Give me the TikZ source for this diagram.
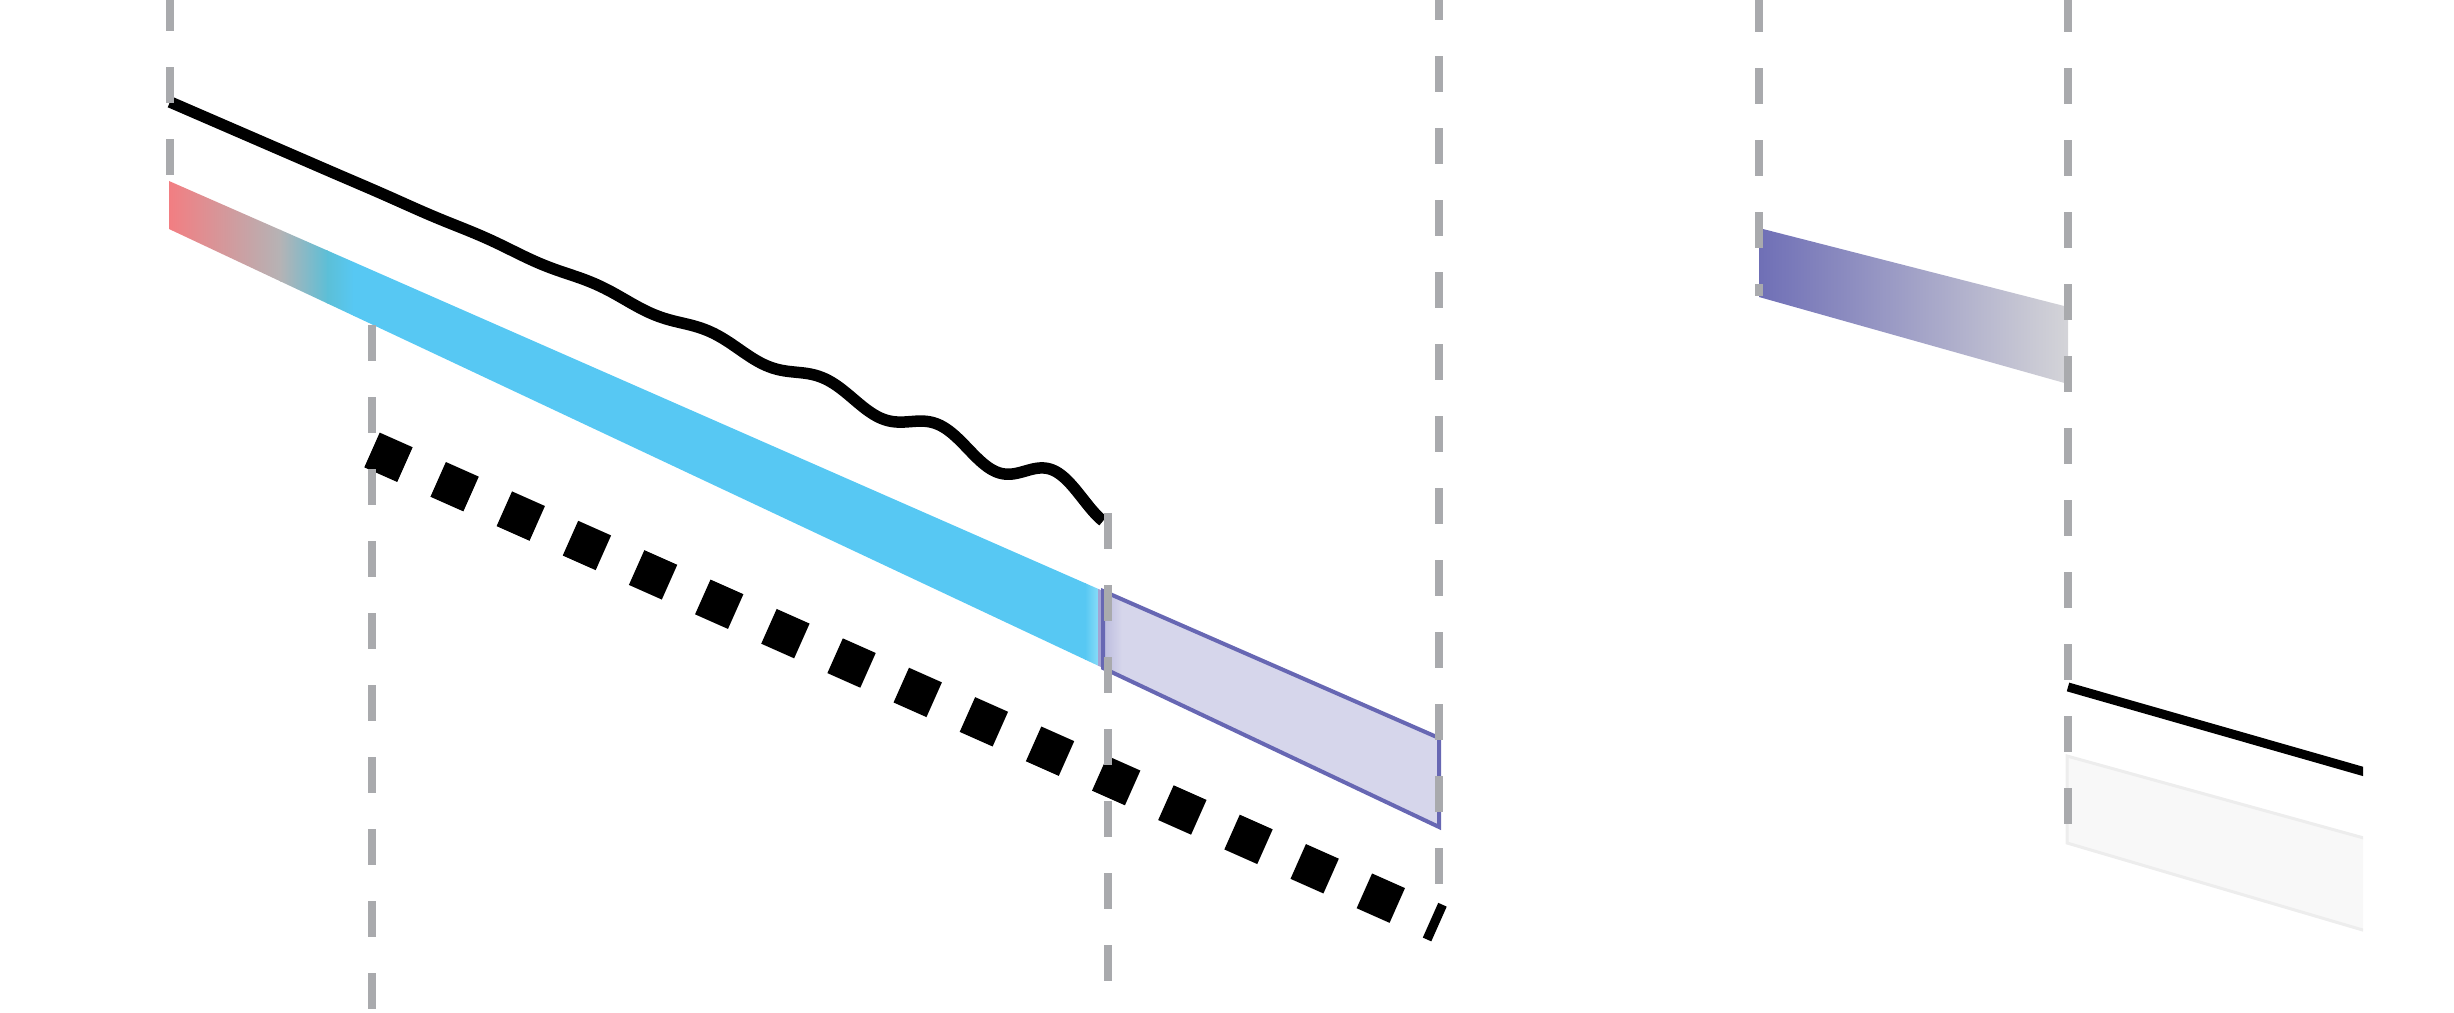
\documentclass[tikz,border=0pt]{standalone}
\usepackage{tikz}
\definecolor{guidegray}{HTML}{A9AAAD}
\definecolor{bandred}{HTML}{F27E82}
\definecolor{bandgray}{HTML}{B5B3B5}
\definecolor{bandteal}{HTML}{5CBFD7}
\definecolor{bandsky}{HTML}{57C8F3}
\definecolor{bandpale}{HTML}{8ADCF8}
\definecolor{lavstrip}{HTML}{A3A3D3}
\definecolor{lavfill}{HTML}{D6D6EB}
\definecolor{lavdark}{HTML}{BBBBDE}
\definecolor{lavline}{HTML}{6767B3}
\definecolor{purpleleft}{HTML}{6F6FB6}
\definecolor{purpleright}{HTML}{D4D4D8}
\definecolor{ghostfill}{HTML}{F8F8F8}
\definecolor{ghostline}{HTML}{EDEDED}
\tikzset{
  % Stili per linee e bande
  guide/.style={draw=guidegray, line width=0.08cm, dash pattern=on 0.36cm off 0.36cm},
  wave/.style={draw=black, line width=0.115cm},
  squaredots/.style={draw=black, line width=0.38cm, dash pattern=on 0.36cm off 0.3635cm},
  thinline/.style={draw=black, line width=0.09cm},
  lavborder/.style={draw=lavline, line width=0.04cm},
  ghostband/.style={fill=ghostfill, draw=ghostline, line width=0.03cm}
}

\begin{document}
\begin{tikzpicture}[x=0.01cm, y=-0.01cm]
\useasboundingbox (0,0) rectangle (2454,1013);

% Punti della banda di sinistra
\coordinate (bandTL) at (169,181);
\coordinate (bandBL) at (169,229);
\coordinate (bandTM) at (1103,591);
\coordinate (bandBM) at (1103,668);
\coordinate (bandTR) at (1439,738);
\coordinate (bandBR) at (1439,827);

% Banda sfumata rosso - azzurro
\begin{scope}
  \clip (bandTL) -- (bandTM) -- (bandBM) -- (bandBL) -- cycle;
  \shade[left color=bandred, right color=bandgray] (169,150) rectangle (281,700);
  \shade[left color=bandgray, right color=bandteal] (280,150) rectangle (328,700);
  \shade[left color=bandteal, right color=bandsky] (327,150) rectangle (354,700);
  \fill[bandsky] (353,150) rectangle (1086,700);
  \shade[left color=bandsky, right color=bandpale] (1085,150) rectangle (1099,700);
  \fill[lavstrip] (1098,150) rectangle (1104,700);
\end{scope}

% Banda lavanda
\begin{scope}
  \clip (bandTM) -- (bandTR) -- (bandBR) -- (bandBM) -- cycle;
  \fill[lavfill] (1100,550) rectangle (1440,850);
  \shade[left color=lavdark, right color=lavfill] (1103,550) rectangle (1122,850);
\end{scope}
\draw[lavborder] (bandTM) -- (bandTR) -- (bandBR) -- (bandBM) -- cycle;

% Linea ondulata
\draw[wave] plot[domain=170:1103, samples=420]
  (\x, {102 + 0.433*(\x-170) + 16*(max(\x-300,0)/800)^2*sin((\x-1081)/115*360)});

% Linea a quadrati
\coordinate (dotA) at (372,450);
\coordinate (dotB) at (1439,924);
\draw[squaredots] (dotA) -- (dotB);

% Banda viola a destra
\coordinate (purTL) at (1759,228);
\coordinate (purTR) at (2068,307);
\coordinate (purBR) at (2068,384);
\coordinate (purBL) at (1759,297);
\shade[left color=purpleleft, right color=purpleright] (purTL) -- (purTR) -- (purBR) -- (purBL) -- cycle;

% Linea sottile e banda chiara (tagliate a destra)
\coordinate (lineA) at (2068,687);
\coordinate (lineB) at (2400,782);
\coordinate (ghostTL) at (2067,756);
\coordinate (ghostTR) at (2400,848);
\coordinate (ghostBR) at (2400,941);
\coordinate (ghostBL) at (2067,843);
\begin{scope}
  \clip (1900,600) rectangle (2363,1013);
  \draw[thinline] (lineA) -- (lineB);
  \path[ghostband] (ghostTL) -- (ghostTR) -- (ghostBR) -- (ghostBL) -- cycle;
\end{scope}

% Linee guida tratteggiate
\foreach \gx/\gtop/\gbot in {170/-5/175, 372/325/1013, 1108/513/982, 1439/-16/884, 1759/-4/296, 2068/-4/825}
  \draw[guide] (\gx,\gtop) -- (\gx,\gbot);

\end{tikzpicture}
\end{document}
